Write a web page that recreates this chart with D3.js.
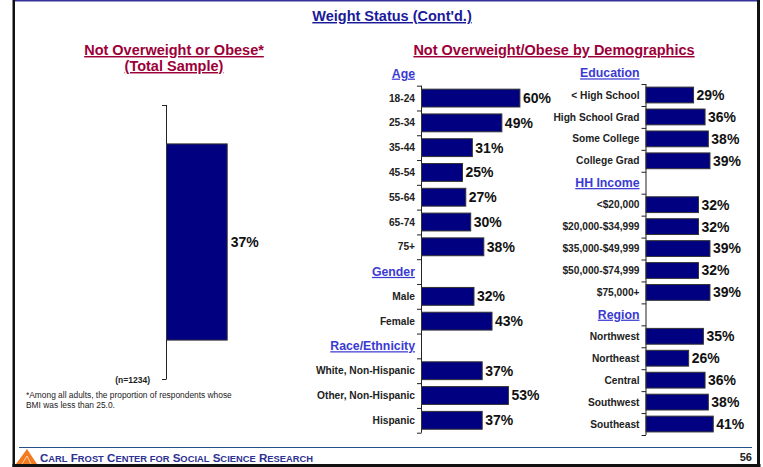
<!DOCTYPE html>
<html>
<head>
<meta charset="utf-8">
<script src="https://cdn.jsdelivr.net/npm/d3@7"></script>
<style>
  body { margin: 0; background: #fff; }
  svg { display: block; font-family: "Liberation Sans", Arial, sans-serif; }
</style>
</head>
<body>
<script>
// Chart data
var totalLabel = ["(n=1234)"];
var totalValue = [37];

var ageGroups = ["18-24", "25-34", "35-44", "45-54", "55-64", "65-74", "75+"];
var ageValues = [60, 49, 31, 25, 27, 30, 38];

var genders = ["Male", "Female"];
var genderValues = [32, 43];

var races = ["White, Non-Hispanic", "Other, Non-Hispanic", "Hispanic"];
var raceValues = [37, 53, 37];

var educationLevels = ["< High School", "High School Grad", "Some College", "College Grad"];
var educationValues = [29, 36, 38, 39];

var incomes = ["<$20,000", "$20,000-$34,999", "$35,000-$49,999", "$50,000-$74,999", "$75,000+"];
var incomeValues = [32, 32, 39, 32, 39];

var regions = ["Northwest", "Northeast", "Central", "Southwest", "Southeast"];
var regionValues = [35, 26, 36, 38, 41];

var width = 763;
var height = 467;

var svg = d3.select("body").append("svg")
    .attr("width", width)
    .attr("height", height);

// percent -> bar length (same scale in every panel)
var x = d3.scaleLinear().domain([0, 100]).range([0, 164]);

/*** Slide frame ***/
svg.append("rect").attr("x", 13).attr("y", 0).attr("width", 744).attr("height", 1.5).attr("fill", "#333399");
svg.append("rect").attr("x", 12.5).attr("y", 0).attr("width", 2.5).attr("height", 467).attr("fill", "#111");
svg.append("rect").attr("x", 757).attr("y", 0).attr("width", 3).attr("height", 467).attr("fill", "#111");
svg.append("rect").attr("x", 12.5).attr("y", 464).attr("width", 748).attr("height", 3).attr("fill", "#111");

svg.append("line")
    .attr("x1", 19).attr("x2", 752)
    .attr("y1", 447.5).attr("y2", 447.5)
    .attr("stroke", "#24508c").attr("stroke-width", 1.2);

// little orange logo
svg.append("path")
    .attr("d", "M16,464 L27,449 L37,464 Z")
    .attr("fill", "#f27a21");
svg.append("path")
    .attr("d", "M22,464 L27,456 L31,464")
    .attr("fill", "none").attr("stroke", "#fbd0a8").attr("stroke-width", 1);

// footer text in small caps
var footerWords = ["Carl", "Frost", "Center", "for", "Social", "Science", "Research"];
var footer = svg.append("text")
    .attr("x", 40).attr("y", 461.5)
    .attr("fill", "#2e3192")
    .style("font-weight", "bold")
    .attr("textLength", 273)
    .attr("lengthAdjust", "spacingAndGlyphs");
footerWords.forEach(function(w, i) {
    var first = w.charAt(0);
    var big = first === first.toUpperCase();
    footer.append("tspan").style("font-size", big ? "10.5px" : "8.5px").text((i > 0 ? " " : "") + first.toUpperCase());
    footer.append("tspan").style("font-size", "8.5px").text(w.slice(1).toUpperCase());
});

svg.append("text")
    .text("56")
    .attr("x", 752).attr("y", 461)
    .attr("text-anchor", "end")
    .style("font-size", "11px").style("font-weight", "bold")
    .attr("fill", "#222");

/*** Titles ***/
svg.append("text")
    .text("Weight Status (Cont'd.)")
    .attr("x", 392).attr("y", 21)
    .attr("text-anchor", "middle")
    .style("font-size", "14.5px").style("font-weight", "bold")
    .style("text-decoration", "underline")
    .attr("fill", "#1a1a99");

svg.append("text")
    .text("Not Overweight or Obese*")
    .attr("x", 174).attr("y", 55)
    .attr("text-anchor", "middle")
    .style("font-size", "14.5px").style("font-weight", "bold")
    .style("text-decoration", "underline")
    .attr("fill", "#9c0039");
svg.append("text")
    .text("(Total Sample)")
    .attr("x", 174).attr("y", 71)
    .attr("text-anchor", "middle")
    .style("font-size", "14.5px").style("font-weight", "bold")
    .style("text-decoration", "underline")
    .attr("fill", "#9c0039");

svg.append("text")
    .text("Not Overweight/Obese by Demographics")
    .attr("x", 554).attr("y", 55)
    .attr("text-anchor", "middle")
    .style("font-size", "14.5px").style("font-weight", "bold")
    .style("text-decoration", "underline")
    .attr("fill", "#9c0039");

/*** Total sample panel ***/
var totalX = 166;
var yTotal = d3.scaleBand().domain(totalLabel).range([105, 379]);

svg.append("line")
    .attr("x1", totalX + 0.5).attr("x2", totalX + 0.5)
    .attr("y1", yTotal.range()[0]).attr("y2", yTotal.range()[1])
    .attr("stroke", "#222");
yTotal.range().forEach(function(t) {
    svg.append("line")
        .attr("x1", totalX - 4).attr("x2", totalX + 0.5)
        .attr("y1", t + 0.5).attr("y2", t + 0.5)
        .attr("stroke", "#222");
});

totalLabel.forEach(function(c, i) {
    var b = yTotal(c);
    var bw = yTotal.bandwidth();
    svg.append("rect")
        .attr("x", totalX + 0.5)
        .attr("y", b + bw * 0.142)
        .attr("width", x(totalValue[i]))
        .attr("height", bw * 0.716)
        .attr("fill", "#000080")
        .attr("stroke", "#333").attr("stroke-width", 1);
    svg.append("text")
        .text(totalValue[i] + "%")
        .attr("x", totalX + x(totalValue[i]) + 4)
        .attr("y", b + bw / 2)
        .attr("dy", "0.35em")
        .style("font-size", "14px").style("font-weight", "bold")
        .attr("fill", "#111");
    svg.append("text")
        .text(c)
        .attr("x", 150)
        .attr("y", b + bw + 3.5)
        .attr("text-anchor", "end")
        .style("font-size", "8.5px").style("font-weight", "bold")
        .attr("fill", "#222");
});

svg.append("text")
    .attr("x", 26).attr("y", 398)
    .style("font-size", "8.4px").attr("fill", "#222")
    .text("*Among all adults, the proportion of respondents whose");
svg.append("text")
    .attr("x", 26).attr("y", 408)
    .style("font-size", "8.4px").attr("fill", "#222")
    .text("BMI was less than 25.0.");

/*** Demographic panels ***/
function drawColumn(axisX, top, bottom, sections) {
    // one row per header and per category
    var rows = [];
    sections.forEach(function(s, si) {
        rows.push({ id: "h" + si, header: s.title });
        s.cats.forEach(function(c, ci) {
            rows.push({ id: "r" + si + "-" + ci, label: c, value: s.vals[ci] });
        });
    });

    var y = d3.scaleBand()
        .domain(rows.map(function(r) { return r.id; }))
        .range([top, bottom]);
    var step = y.step();
    var axisTop = y(rows[1].id);

    var g = svg.append("g");

    g.append("line")
        .attr("x1", axisX + 0.5).attr("x2", axisX + 0.5)
        .attr("y1", axisTop).attr("y2", bottom)
        .attr("stroke", "#222");

    rows.slice(1).forEach(function(r) {
        g.append("line")
            .attr("x1", axisX - 4).attr("x2", axisX + 0.5)
            .attr("y1", y(r.id) + 0.5).attr("y2", y(r.id) + 0.5)
            .attr("stroke", "#222");
    });
    g.append("line")
        .attr("x1", axisX - 4).attr("x2", axisX + 0.5)
        .attr("y1", bottom + 0.5).attr("y2", bottom + 0.5)
        .attr("stroke", "#222");

    rows.forEach(function(r) {
        var mid = y(r.id) + step / 2;
        if (r.header) {
            g.append("text")
                .text(r.header)
                .attr("x", axisX - 6)
                .attr("y", mid)
                .attr("dy", "0.35em")
                .attr("text-anchor", "end")
                .style("font-size", "12.3px").style("font-weight", "bold")
                .style("text-decoration", "underline")
                .attr("fill", "#3a3ad2");
            return;
        }
        g.append("text")
            .text(r.label)
            .attr("x", axisX - 6)
            .attr("y", mid)
            .attr("dy", "0.35em")
            .attr("text-anchor", "end")
            .style("font-size", "10.2px").style("font-weight", "bold")
            .attr("fill", "#222");
        g.append("rect")
            .attr("x", axisX + 0.5)
            .attr("y", y(r.id) + step * 0.14)
            .attr("width", x(r.value))
            .attr("height", step * 0.72)
            .attr("fill", "#000080")
            .attr("stroke", "#333").attr("stroke-width", 1);
        g.append("text")
            .text(r.value + "%")
            .attr("x", axisX + x(r.value) + 3.5)
            .attr("y", mid)
            .attr("dy", "0.35em")
            .style("font-size", "14px").style("font-weight", "bold")
            .attr("fill", "#111");
    });
}

drawColumn(421, 60.9, 432.7, [
    { title: "Age", cats: ageGroups, vals: ageValues },
    { title: "Gender", cats: genders, vals: genderValues },
    { title: "Race/Ethnicity", cats: races, vals: raceValues }
]);

drawColumn(645.5, 62.1, 435, [
    { title: "Education", cats: educationLevels, vals: educationValues },
    { title: "HH Income", cats: incomes, vals: incomeValues },
    { title: "Region", cats: regions, vals: regionValues }
]);
</script>
</body>
</html>
